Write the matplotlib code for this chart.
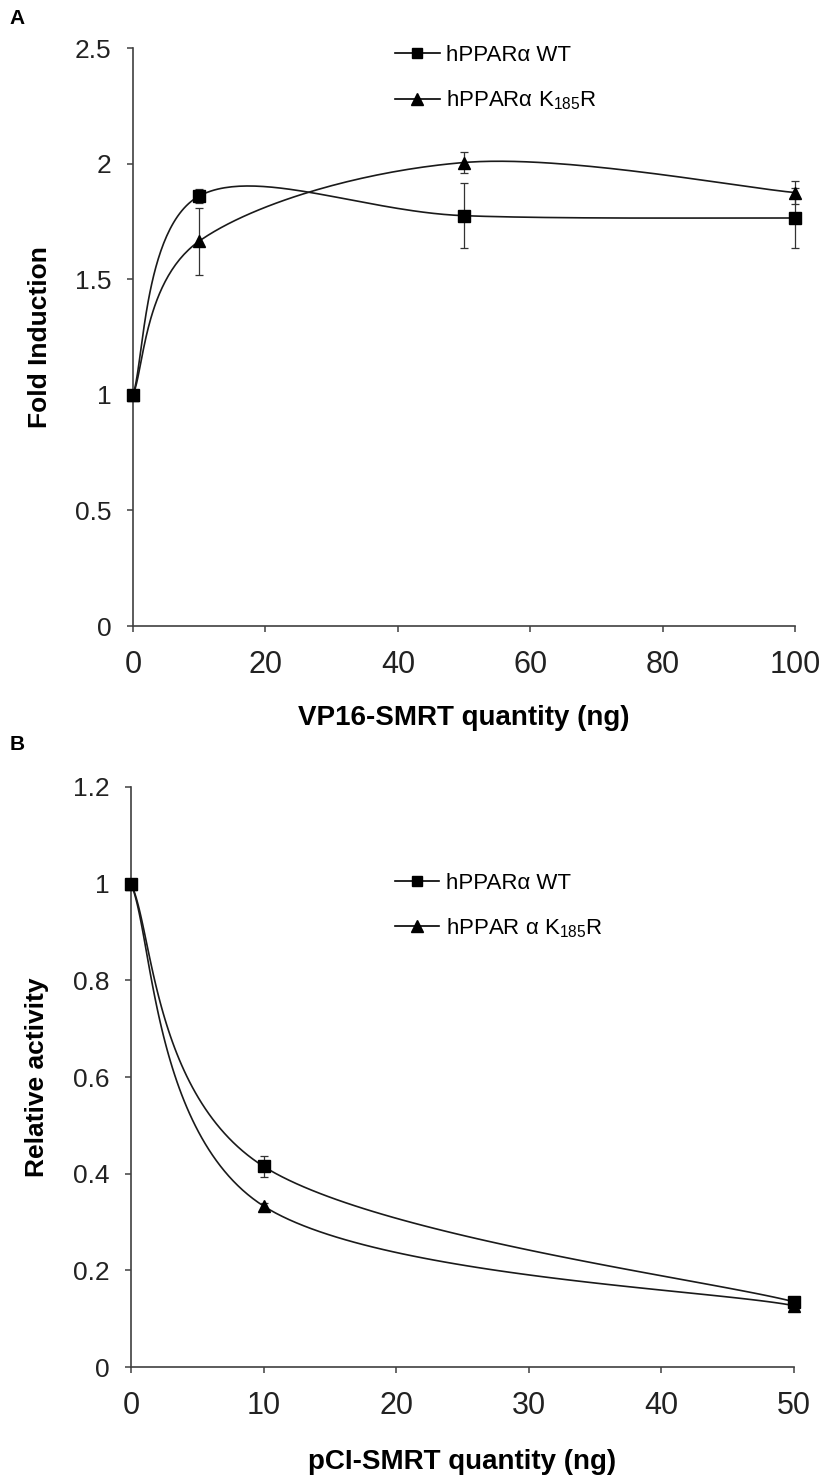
import numpy as np
import matplotlib
matplotlib.use('Agg')
import matplotlib.pyplot as plt
from matplotlib.lines import Line2D

plt.rcParams['font.family'] = ['Liberation Sans', 'DejaVu Sans']
plt.rcParams['mathtext.fontset'] = 'custom'
plt.rcParams['mathtext.rm'] = 'Liberation Sans'
plt.rcParams['mathtext.it'] = 'Liberation Sans:italic'

# Datos panel A
dosis_a = [0, 10, 50, 100]
wt_a = [1.0, 1.86, 1.775, 1.765]
wt_a_err = [0.0, 0.03, 0.14, 0.13]
k185r_a = [1.0, 1.665, 2.005, 1.875]
k185r_a_err = [0.0, 0.145, 0.045, 0.05]

# Datos panel B
dosis_b = [0, 10, 50]
wt_b = [1.0, 0.415, 0.135]
wt_b_err = [0.0, 0.022, 0.01]
k185r_b = [1.0, 0.333, 0.127]
k185r_b_err = [0.0, 0.006, 0.008]

ticks_a_x = [0, 20, 40, 60, 80, 100]
ticks_a_y = [0, 0.5, 1, 1.5, 2, 2.5]
ticks_b_x = [0, 10, 20, 30, 40, 50]
ticks_b_y = [0, 0.2, 0.4, 0.6, 0.8, 1, 1.2]

etiquetas_a = ['hPPARα WT', 'hPPARα K$_{185}$R']
etiquetas_b = ['hPPARα WT', 'hPPAR α K$_{185}$R']

narrow = ['Liberation Sans Narrow', 'Liberation Sans', 'DejaVu Sans']
gris = '#404040'


def curva_suave(ax, x, y, n=60):
    # Suavizado tipo Excel (Bezier con tangentes Catmull-Rom en pixeles)
    pts = ax.transData.transform(np.column_stack([x, y]))
    m = len(pts)
    tramos = []
    t = np.linspace(0, 1, n)[:, None]
    for i in range(m - 1):
        p0 = pts[max(i - 1, 0)]
        p1 = pts[i]
        p2 = pts[i + 1]
        p3 = pts[min(i + 2, m - 1)]
        c1 = p1 + (p2 - p0) / 6
        c2 = p2 - (p3 - p1) / 6
        seg = (1 - t)**3 * p1 + 3 * (1 - t)**2 * t * c1 + 3 * (1 - t) * t**2 * c2 + t**3 * p2
        tramos.append(seg if i == 0 else seg[1:])
    return ax.transData.inverted().transform(np.vstack(tramos))


def preparar_ejes(ax, xlim, ylim, xt, yt):
    ax.set_xlim(*xlim)
    ax.set_ylim(*ylim)
    ax.set_xticks(xt)
    ax.set_yticks(yt)
    ax.set_yticklabels([f'{v:g}' for v in yt])
    ax.set_xticklabels([f'{v:g}' for v in xt], fontfamily=narrow, fontsize=22)
    for lado in ['top', 'right']:
        ax.spines[lado].set_visible(False)
    for lado in ['left', 'bottom']:
        ax.spines[lado].set_color(gris)
        ax.spines[lado].set_linewidth(1.2)
    ax.tick_params(axis='both', direction='out', length=4.5, width=1.1, color=gris)
    ax.tick_params(axis='y', labelsize=19, pad=11, labelcolor='#222222')
    ax.tick_params(axis='x', pad=13, labelcolor='#222222')


def dibujar_serie(ax, x, y, err, marcador, ms):
    xy = curva_suave(ax, x, y)
    ax.plot(xy[:, 0], xy[:, 1], color='#1a1a1a', lw=1.2, clip_on=False, zorder=3)
    ax.errorbar(x, y, yerr=err, fmt='none', ecolor='#333333', elinewidth=0.9,
                capsize=3, capthick=0.9, clip_on=False, zorder=4)
    ax.plot(x, y, linestyle='none', marker=marcador, ms=ms, color='black',
            clip_on=False, zorder=5)


def leyenda(ax, etiquetas, pos):
    manejadores = [Line2D([], [], color='black', lw=1.2, marker='s', ms=7.5),
                   Line2D([], [], color='black', lw=1.2, marker='^', ms=8)]
    ax.legend(manejadores, etiquetas, loc='upper left', bbox_to_anchor=pos,
              frameon=False, fontsize=16, handlelength=2.0, handletextpad=0.3,
              labelspacing=1.0, borderpad=0, borderaxespad=0)


fig = plt.figure(figsize=(8.22, 14.79), dpi=100)

## ---------------- Panel A ----------------
ax1 = fig.add_axes([0.1618, 0.5767, 0.8054, 0.3908])
preparar_ejes(ax1, (0, 100), (0, 2.5), ticks_a_x, ticks_a_y)
dibujar_serie(ax1, dosis_a, k185r_a, k185r_a_err, '^', 9)
dibujar_serie(ax1, dosis_a, wt_a, wt_a_err, 's', 8.5)
leyenda(ax1, etiquetas_a, (0.396, 1.005))
ax1.set_xlabel('VP16-SMRT quantity (ng)', fontfamily=narrow, fontweight='bold',
               fontsize=20, va='center')
ax1.xaxis.set_label_coords(0.5, -0.159)
ax1.set_ylabel('Fold Induction', fontweight='bold', fontsize=19, va='center')
ax1.yaxis.set_label_coords(-0.140, 0.5)

## ---------------- Panel B ----------------
ax2 = fig.add_axes([0.1594, 0.0757, 0.8066, 0.3922])
preparar_ejes(ax2, (0, 50), (0, 1.2), ticks_b_x, ticks_b_y)
dibujar_serie(ax2, dosis_b, k185r_b, k185r_b_err, '^', 9)
dibujar_serie(ax2, dosis_b, wt_b, wt_b_err, 's', 8.5)
leyenda(ax2, etiquetas_b, (0.398, 0.852))
ax2.set_xlabel('pCI-SMRT quantity (ng)', fontfamily=narrow, fontweight='bold',
               fontsize=20, va='center')
ax2.xaxis.set_label_coords(0.5, -0.164)
ax2.set_ylabel('Relative activity', fontweight='bold', fontsize=19, va='center')
ax2.yaxis.set_label_coords(-0.142, 0.5)

# Letras de panel
fig.text(0.012, 1 - 18 / 1479, 'A', fontweight='bold', fontsize=15, va='center')
fig.text(0.012, 1 - 745 / 1479, 'B', fontweight='bold', fontsize=15, va='center')

fig.savefig('out.png', dpi=100)
